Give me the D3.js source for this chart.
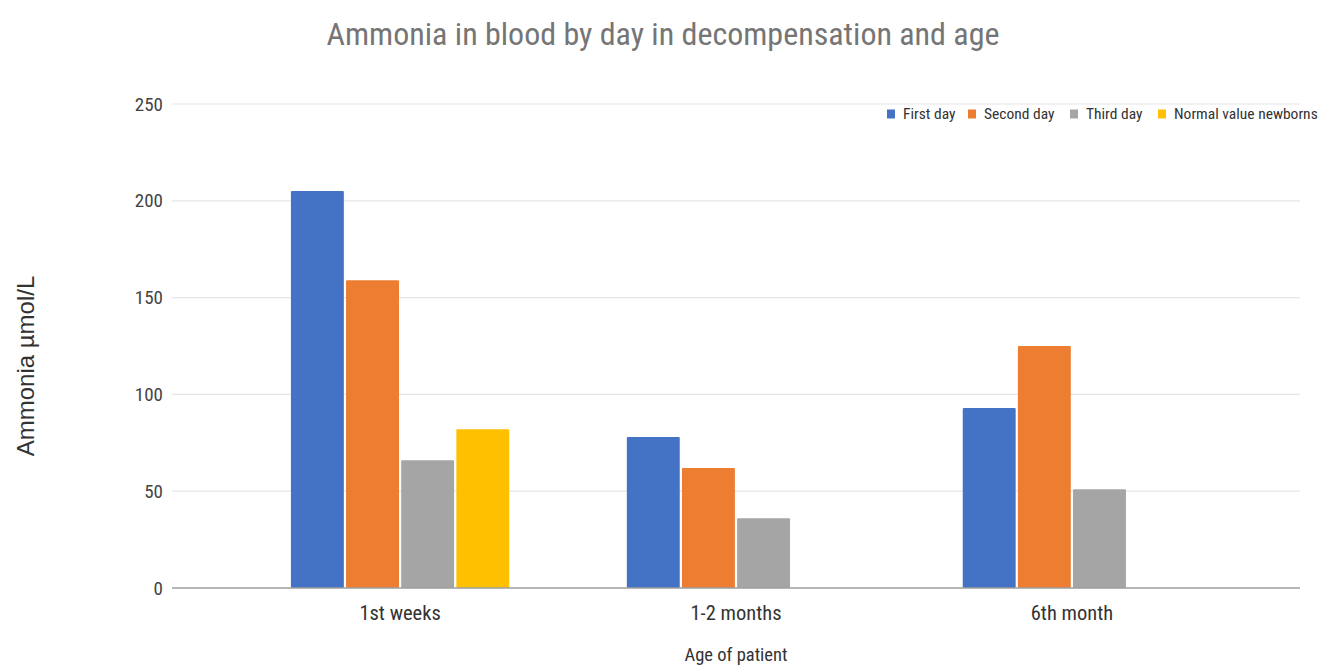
<!DOCTYPE html>
<html>
<head>
<meta charset="utf-8">
<script src="https://cdn.jsdelivr.net/npm/d3@7"></script>
<style>
  body { margin: 0; background: #fff; }
  svg { display: block; }
</style>
</head>
<body>
<svg id="chart" width="1324" height="665"></svg>
<script>
// data
const ageGroups = ["1st weeks", "1-2 months", "6th month"];
const seriesNames = ["First day", "Second day", "Third day", "Normal value newborns"];
const firstDay = [205, 78, 93];
const secondDay = [159, 62, 125];
const thirdDay = [66, 36, 51];
const normalNewborns = [82, null, null];
const yTicks = [0, 50, 100, 150, 200, 250];
const colors = ["#4472c4", "#ed7d31", "#a5a5a5", "#ffc000"];

const allSeries = [firstDay, secondDay, thirdDay, normalNewborns];
const narrow = "'Liberation Sans Narrow', 'Roboto Condensed', 'Liberation Sans', sans-serif";

const svg = d3.select("#chart");

// scales
const x0 = d3.scaleBand()
    .domain(ageGroups)
    .range([172, 1300])
    .paddingInner(0.35)
    .paddingOuter(0.354);

const x1 = d3.scaleBand()
    .domain(seriesNames)
    .range([0, x0.bandwidth()])
    .paddingInner(0.04);

const y = d3.scaleLinear()
    .domain([0, 250])
    .range([588, 104]);

const color = d3.scaleOrdinal().domain(seriesNames).range(colors);

// gridlines
svg.append("g")
   .selectAll("line")
   .data(yTicks.filter(d => d > 0))
   .enter().append("line")
     .attr("x1", 172)
     .attr("x2", 1300)
     .attr("y1", d => y(d))
     .attr("y2", d => y(d))
     .attr("stroke", "#e6e6e6")
     .attr("stroke-width", 1.2);

// y tick labels
svg.append("g")
   .selectAll("text")
   .data(yTicks)
   .enter().append("text")
     .attr("x", 163)
     .attr("y", d => y(d))
     .attr("dy", "0.35em")
     .attr("text-anchor", "end")
     .style("font-family", narrow)
     .style("font-size", "19px")
     .style("fill", "#444")
     .text(d => d);

// bars
const rows = ageGroups.map((g, i) => ({ group: g, values: seriesNames.map((s, j) => ({ key: s, value: allSeries[j][i] })) }));

svg.append("g")
   .selectAll("g")
   .data(rows)
   .enter().append("g")
     .attr("transform", d => `translate(${x0(d.group)},0)`)
   .selectAll("rect")
   .data(d => d.values.filter(v => v.value != null))
   .enter().append("rect")
     .attr("x", d => x1(d.key))
     .attr("y", d => y(d.value))
     .attr("width", x1.bandwidth())
     .attr("height", d => y(0) - y(d.value))
     .attr("rx", 1)
     .attr("fill", d => color(d.key));

// baseline
svg.append("line")
   .attr("x1", 172)
   .attr("x2", 1300)
   .attr("y1", y(0))
   .attr("y2", y(0))
   .attr("stroke", "#9e9e9e")
   .attr("stroke-width", 1.5);

// x labels
svg.append("g")
   .selectAll("text")
   .data(ageGroups)
   .enter().append("text")
     .attr("x", d => x0(d) + x0.bandwidth() / 2)
     .attr("y", 620)
     .attr("text-anchor", "middle")
     .style("font-family", narrow)
     .style("font-size", "20.5px")
     .style("fill", "#333")
     .text(d => d);

// title
svg.append("text")
   .attr("x", 663)
   .attr("y", 45)
   .attr("text-anchor", "middle")
   .style("font-family", narrow)
   .style("font-size", "32px")
   .style("fill", "#757575")
   .text("Ammonia in blood by day in decompensation and age");

// axis titles
svg.append("text")
   .attr("x", 736)
   .attr("y", 661)
   .attr("text-anchor", "middle")
   .style("font-family", narrow)
   .style("font-size", "18.5px")
   .style("fill", "#333")
   .text("Age of patient");

svg.append("text")
   .attr("transform", "translate(34,366) rotate(-90)")
   .attr("text-anchor", "middle")
   .style("font-family", "'Liberation Sans', Arial, sans-serif")
   .style("font-size", "24px")
   .style("fill", "#333")
   .text("Ammonia µmol/L");

// legend
const legendX = [887, 968, 1070, 1158];
const legend = svg.append("g")
   .selectAll("g")
   .data(seriesNames)
   .enter().append("g")
     .attr("transform", (d, i) => `translate(${legendX[i]},114)`);

legend.append("rect")
   .attr("x", 0)
   .attr("y", -4.5)
   .attr("width", 8)
   .attr("height", 9)
   .attr("fill", d => color(d));

legend.append("text")
   .attr("x", 16)
   .attr("y", 0)
   .attr("dy", "0.35em")
   .style("font-family", narrow)
   .style("font-size", "15.5px")
   .style("fill", "#333")
   .text(d => d);
</script>
</body>
</html>
